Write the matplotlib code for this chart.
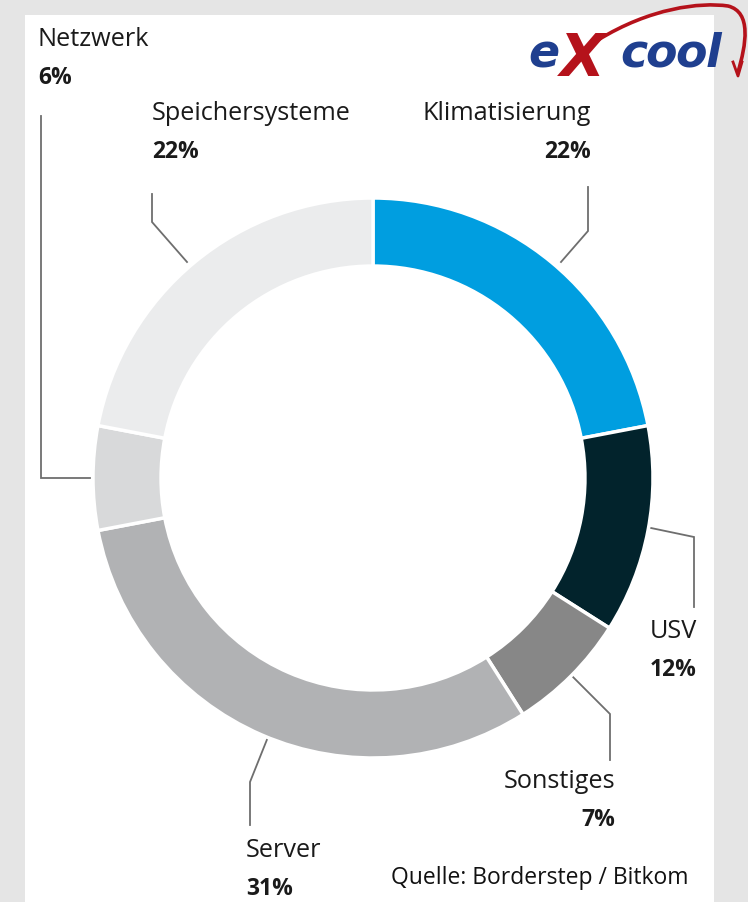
import matplotlib
matplotlib.use("Agg")
import matplotlib.pyplot as plt
from matplotlib.patches import Rectangle, PathPatch
from matplotlib.path import Path

# ---- data ----
categories = ["Klimatisierung", "USV", "Sonstiges", "Server", "Netzwerk", "Speichersysteme"]
shares = [22, 12, 7, 31, 6, 22]
colors = ["#009ee0", "#02232c", "#878787", "#b1b2b4", "#d8d9da", "#ebeced"]
pct_labels = [f"{v}%" for v in shares]
source = "Quelle: Borderstep / Bitkom"

W, H = 748, 902
fig = plt.figure(figsize=(W / 100, H / 100), dpi=100)
fig.patch.set_facecolor("#e5e5e5")

bg = fig.add_axes([0, 0, 1, 1])
bg.set_xlim(0, W)
bg.set_ylim(H, 0)
bg.axis("off")
bg.add_patch(Rectangle((25, 15), 714 - 25, H - 15, facecolor="white", edgecolor="none"))

# ---- donut ----
cx, cy, R = 373, 478, 280
ax = fig.add_axes([(cx - R) / W, (H - cy - R) / H, 2 * R / W, 2 * R / H])
ax.pie(shares, colors=colors, startangle=90, counterclock=False, radius=1,
       wedgeprops=dict(width=0.243, edgecolor="white", linewidth=2.5))
ax.set_xlim(-1, 1)
ax.set_ylim(-1, 1)
ax.set_aspect("auto")
ax.axis("off")

# ---- leader lines (pixel coordinates) ----
lc = "#6e6e6e"
lw = 1.3
leaders = {
    "Klimatisierung": [(561, 262), (588, 231), (588, 187)],
    "USV": [(651, 528), (694, 537), (694, 607)],
    "Sonstiges": [(571, 675), (610, 714), (610, 760)],
    "Server": [(268, 737), (250, 782), (250, 825)],
    "Netzwerk": [(90, 478), (41, 478), (41, 116)],
    "Speichersysteme": [(187, 262), (152, 222), (152, 194)],
}
for name, pts in leaders.items():
    xs, ys = zip(*pts)
    bg.plot(xs, ys, color=lc, lw=lw, solid_joinstyle="miter")

# ---- labels ----
font = "Open Sans"
tc = "#1a1a1a"
label_pos = {
    "Klimatisierung": (591, 120, "right"),
    "USV": (697, 638, "right"),
    "Sonstiges": (615, 788, "right"),
    "Server": (246, 857, "left"),
    "Netzwerk": (38, 46, "left"),
    "Speichersysteme": (152, 120, "left"),
}
for name, pct in zip(categories, pct_labels):
    x, y, ha = label_pos[name]
    bg.text(x, y, name, ha=ha, va="baseline", fontsize=18.2, family=font, color=tc)
    bg.text(x, y + 38, pct, ha=ha, va="baseline", fontsize=16.5, family=font,
            fontweight="bold", color=tc)

bg.text(391, 884, source, ha="left", va="baseline", fontsize=16.5, family=font, color="#111111")

# ---- logo ----
red = "#b5121b"
blue = "#1f3f8f"
swoosh = Path([(598, 40), (650, 8), (700, 2), (728, 6), (752, 12), (746, 45), (738, 72)],
              [Path.MOVETO, Path.CURVE4, Path.CURVE4, Path.CURVE4, Path.CURVE4, Path.CURVE4, Path.CURVE4])
bg.add_patch(PathPatch(swoosh, facecolor="none", edgecolor=red, lw=2.6))
bg.plot([733, 738, 742], [62, 76, 62], color=red, lw=2)
bg.text(528, 67, "e", ha="left", va="baseline", fontsize=33, family="DejaVu Sans",
        fontweight="bold", style="italic", color=blue)
bg.text(560, 76, "X", ha="left", va="baseline", fontsize=42, family="DejaVu Sans",
        fontweight="bold", style="italic", color=red)
for ch, x in zip("cool", [620, 645, 675, 706]):
    bg.text(x, 67, ch, ha="left", va="baseline", fontsize=33, family="DejaVu Sans",
            fontweight="bold", style="italic", color=blue)

fig.savefig("out.png", dpi=100, facecolor=fig.get_facecolor())
